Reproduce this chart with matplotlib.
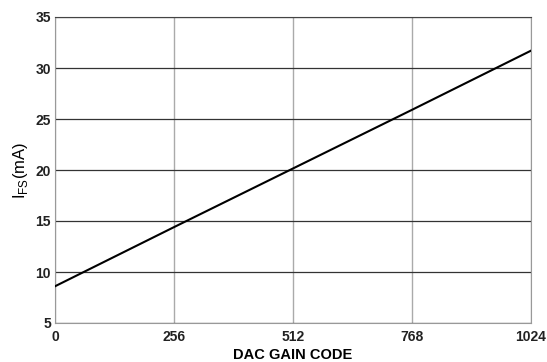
import matplotlib.pyplot as plt

codes = [0, 256, 512, 768, 1024]
ifs_ma = [8.6, 14.4, 20.15, 25.9, 31.7]
xticks = [0, 256, 512, 768, 1024]
yticks = [5, 10, 15, 20, 25, 30, 35]

plt.rcParams['font.family'] = ['Liberation Sans', 'DejaVu Sans']

fig = plt.figure(figsize=(5.47, 3.62), dpi=100)
ax = fig.add_axes([55 / 547, 1 - 323 / 362, 476 / 547, 306 / 362])

ax.plot(codes, ifs_ma, color='black', lw=1.5, zorder=3)
ax.set_xlim(0, 1024)
ax.set_ylim(5, 35)
ax.set_xticks(xticks)
ax.set_yticks(yticks)
ax.tick_params(length=0, labelsize=10)
ax.tick_params(axis='x', pad=5)
ax.tick_params(axis='y', pad=3)
for lab in ax.get_xticklabels() + ax.get_yticklabels():
    lab.set_fontweight('bold')
    lab.set_color('#222222')

ax.yaxis.grid(True, color='#333333', lw=0.9)
ax.xaxis.grid(True, color='#aaaaaa', lw=1.0)
for s in ['left', 'bottom', 'right']:
    ax.spines[s].set_color('#999999')
ax.spines['top'].set_color('#444444')

ax.set_xlabel('DAC GAIN CODE', fontsize=10.5, fontweight='bold', labelpad=3)
ax.set_ylabel(r'I$_{\mathregular{FS}}$(mA)', fontsize=12, labelpad=4)

fig.savefig('out.png', dpi=100)
